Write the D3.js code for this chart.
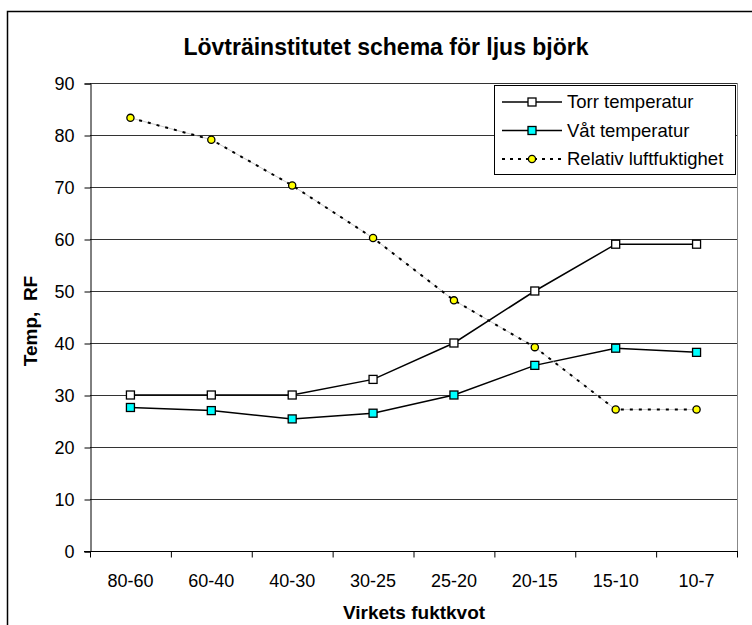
<!DOCTYPE html>
<html>
<head>
<meta charset="utf-8">
<script src="https://cdn.jsdelivr.net/npm/d3@7"></script>
<style>
  body { margin: 0; background: #fff; }
  svg { display: block; font-family: "Liberation Sans", Arial, sans-serif; }
</style>
</head>
<body>
<svg width="752" height="625"></svg>
<script>
// data
var categories = ['80-60', '60-40', '40-30', '30-25', '25-20', '20-15', '15-10', '10-7'];
var torrTemp = [30, 30, 30, 33, 40, 50, 59, 59];
var vatTemp = [27.6, 27, 25.4, 26.5, 30, 35.7, 39, 38.2];
var relFukt = [83.3, 79.1, 70.3, 60.2, 48.2, 39.2, 27.2, 27.2];
var yTicks = [0, 10, 20, 30, 40, 50, 60, 70, 80, 90];

var svg = d3.select('svg');
var plotLeft = 90, plotRight = 737, plotTop = 83, plotBottom = 551;

// chart border (runs off the picture at right and bottom)
svg.append('rect')
  .attr('x', 7.5).attr('y', 11.5)
  .attr('width', 800).attr('height', 700)
  .attr('fill', 'none').attr('stroke', '#000').attr('stroke-width', 1.5);

var x = d3.scaleBand().domain(categories).range([plotLeft, plotRight]);
var y = d3.scaleLinear().domain([0, 90]).range([plotBottom, plotTop]);

// gridlines
svg.append('g').selectAll('line')
  .data(yTicks.slice(1))
  .enter().append('line')
  .attr('x1', plotLeft).attr('x2', plotRight)
  .attr('y1', d => y(d) + 0.5).attr('y2', d => y(d) + 0.5)
  .attr('stroke', '#333').attr('stroke-width', 1);

// right border of plot
svg.append('line')
  .attr('x1', plotRight + 0.5).attr('x2', plotRight + 0.5)
  .attr('y1', plotTop).attr('y2', plotBottom)
  .attr('stroke', '#888');

// y axis
var yAxis = svg.append('g')
  .attr('transform', 'translate(' + (plotLeft + 0.5) + ',0.5)')
  .call(d3.axisLeft(y).tickValues(yTicks).tickSize(6).tickPadding(10));
yAxis.select('.domain').attr('stroke', '#000');
yAxis.selectAll('line').attr('stroke', '#000');
yAxis.selectAll('text').attr('font-size', 18).attr('fill', '#000')
  .attr('font-family', '"Liberation Sans", Arial, sans-serif');

// x axis: ticks on band edges
var xAxis = svg.append('g')
  .attr('transform', 'translate(0,' + (plotBottom + 0.5) + ')');
xAxis.append('line')
  .attr('x1', plotLeft - 6).attr('x2', plotRight + 1)
  .attr('stroke', '#000');
xAxis.selectAll('.edge')
  .data(categories.concat(['end']))
  .enter().append('line')
  .attr('class', 'edge')
  .attr('x1', (d, i) => plotLeft + 0.5 + i * x.bandwidth())
  .attr('x2', (d, i) => plotLeft + 0.5 + i * x.bandwidth())
  .attr('y1', 0).attr('y2', 6)
  .attr('stroke', '#000');
xAxis.selectAll('.lbl')
  .data(categories)
  .enter().append('text')
  .attr('class', 'lbl')
  .attr('x', d => x(d) + x.bandwidth() / 2)
  .attr('y', 35)
  .attr('text-anchor', 'middle')
  .attr('font-size', 18)
  .text(d => d);

// titles
svg.append('text')
  .attr('x', 386).attr('y', 55)
  .attr('text-anchor', 'middle')
  .attr('font-size', 23).attr('font-weight', 'bold')
  .text('Lövträinstitutet schema för ljus björk');

svg.append('text')
  .attr('x', 414).attr('y', 619)
  .attr('text-anchor', 'middle')
  .attr('font-size', 19).attr('font-weight', 'bold')
  .text('Virkets fuktkvot');

svg.append('text')
  .attr('transform', 'translate(37,' + ((plotTop + plotBottom) / 2 + 4) + ') rotate(-90)')
  .attr('text-anchor', 'middle')
  .attr('font-size', 19).attr('font-weight', 'bold')
  .style('white-space', 'pre')
  .text('Temp,  RF');

// series
var cx = (d, i) => x(categories[i]) + x.bandwidth() / 2;
var line = d3.line().x(cx).y(d => y(d));

var series = [
  { name: 'Torr temperatur', values: torrTemp, fill: '#fff', shape: 'square', dash: null, width: 1.5 },
  { name: 'Våt temperatur', values: vatTemp, fill: '#00ffff', shape: 'square', dash: null, width: 1.5 },
  { name: 'Relativ luftfuktighet', values: relFukt, fill: '#ffff00', shape: 'circle', dash: '3,6', width: 2 }
];

series.forEach(function(s) {
  if (s.dash) {
    // faint thin line under the dashes, as in the original
    svg.append('path')
      .datum(s.values)
      .attr('d', line)
      .attr('fill', 'none')
      .attr('stroke', '#aaa')
      .attr('stroke-width', 0.6);
  }
  svg.append('path')
    .datum(s.values)
    .attr('d', line)
    .attr('fill', 'none')
    .attr('stroke', '#000')
    .attr('stroke-width', s.width)
    .attr('stroke-dasharray', s.dash);
});

function drawMarker(g, s, px, py) {
  if (s.shape === 'square') {
    g.append('rect')
      .attr('x', px - 4).attr('y', py - 4)
      .attr('width', 8).attr('height', 8)
      .attr('fill', s.fill).attr('stroke', '#000').attr('stroke-width', 1.3);
  } else {
    g.append('circle')
      .attr('cx', px).attr('cy', py).attr('r', 3.6)
      .attr('fill', s.fill).attr('stroke', '#000').attr('stroke-width', 1.3);
  }
}

series.forEach(function(s) {
  var g = svg.append('g');
  s.values.forEach(function(v, i) {
    drawMarker(g, s, cx(v, i), y(v));
  });
});

// legend
var legend = svg.append('g');
legend.append('rect')
  .attr('x', 494.5).attr('y', 85.5)
  .attr('width', 241).attr('height', 89)
  .attr('fill', '#fff').attr('stroke', '#000').attr('stroke-width', 1);

series.forEach(function(s, i) {
  var ly = 102 + i * 28.5;
  legend.append('line')
    .attr('x1', 502).attr('x2', 562)
    .attr('y1', ly).attr('y2', ly)
    .attr('stroke', '#000')
    .attr('stroke-width', s.width)
    .attr('stroke-dasharray', s.dash ? '3,5' : null);
  drawMarker(legend, s, 532, ly);
  legend.append('text')
    .attr('x', 567).attr('y', ly + 6)
    .attr('font-size', 18.5)
    .text(s.name);
});
</script>
</body>
</html>
